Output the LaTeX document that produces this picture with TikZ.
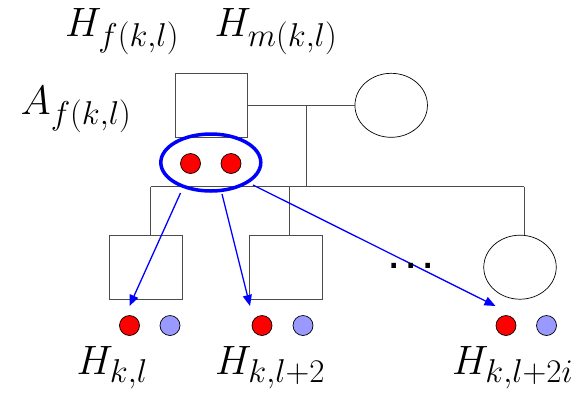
\RequirePackage{fix-cm}
\documentclass[tikz,border=0pt]{standalone}
\usepackage{graphicx}
\usepackage{fontspec}
\newfontfamily\dotfont{Liberation Sans}
\DeclareMathSizes{41}{41}{33}{25}
\usetikzlibrary{arrows.meta,shapes.geometric}
\definecolor{lblue}{HTML}{9999FF}
\begin{document}
\begin{tikzpicture}[x=1pt,y=-1pt,
  box/.style={draw=black!70,line width=0.9pt,minimum width=72.5pt,minimum height=64pt,inner sep=0pt},
  fem/.style={ellipse,draw=black,line width=0.7pt,minimum width=72.5pt,minimum height=64pt,inner sep=0pt},
  tree/.style={draw=black!70,line width=0.9pt},
  rdot/.style={circle,draw=black,line width=0.7pt,fill=red,minimum size=20pt,inner sep=0pt},
  bdot/.style={circle,draw=black,line width=0.7pt,fill=lblue,minimum size=20pt,inner sep=0pt},
  arr/.style={draw=blue,line width=1.3pt,-{Triangle[length=11pt,width=9pt]}},
  lab/.style={anchor=base west,inner sep=0pt,font=\fontsize{41}{49}\selectfont}]
\useasboundingbox (0,0) rectangle (586,392);
% parents
\node[box] (fa) at (211.5,105.3) {};
\node[fem] (mo) at (391.2,105.3) {};
\coordinate (mj) at (306,105.3);
\coordinate (sj) at (306,186.7);
\draw[tree] (fa.east) -- (mo.west);
\draw[tree] (mj) -- (sj);
% children
\node[box] (c1) at (146,267.5) {};
\node[box] (c2) at (285.7,267.5) {};
\node[fem] (c3) at (520,267.2) {};
\coordinate (v1) at (150.7,186.7);
\coordinate (v2) at (289.5,186.7);
\coordinate (v3) at (524,186.7);
\draw[tree] (v1) -- (v3);
\draw[tree] (v1) -- (v1 |- c1.north);
\draw[tree] (v2) -- (v2 |- c2.north);
\draw[tree] (v3) -- (v3 |- c3.north);
% alleles of father
\node[ellipse,draw=blue,line width=3.5pt,minimum width=100pt,minimum height=57pt,inner sep=0pt] (ell) at (210.8,162.5) {};
\node[rdot] (fr1) at (190.5,163.5) {};
\node[rdot] (fr2) at (231,163.5) {};
% children alleles
\node[rdot] (r1) at (129.5,325.5) {};
\node[bdot] (b1) at (170,325.5) {};
\node[rdot] (r2) at (262,325.5) {};
\node[bdot] (b2) at (303,325.5) {};
\node[rdot] (r3) at (506,325.5) {};
\node[bdot] (b3) at (546.5,325.5) {};
% arrows
\coordinate (s1) at (180.5,193);
\coordinate (s2) at (222,194);
\coordinate (s3) at (253,185);
\coordinate (t1) at (129.5,306);
\coordinate (t2) at (250,306);
\coordinate (t3) at (495.5,306);
\draw[arr] (s1) -- (t1);
\draw[arr] (s2) -- (t2);
\draw[arr] (s3) -- (t3);
% dots
\node[anchor=base,inner sep=0pt,font=\fontsize{48}{56}\dotfont] (dd) at (411,268.5) {.\kern3.5pt.\kern3.5pt.};
% labels
\node[lab] (hf) at (65,36) {$H_{f(k,l)}$};
\node[lab] (hm) at (214.5,36) {$H_{m(k,l)}$};
\node[lab] (af) at (20.5,114) {$A_{f(k,l)}$};
\node[lab] (hk1) at (76.5,374) {$H_{k,l}$};
\node[lab] (hk2) at (215,374) {$H_{k,l+2}$};
\node[lab] (hk3) at (452,374) {$H_{k,l+2i}$};
\end{tikzpicture}
\end{document}
